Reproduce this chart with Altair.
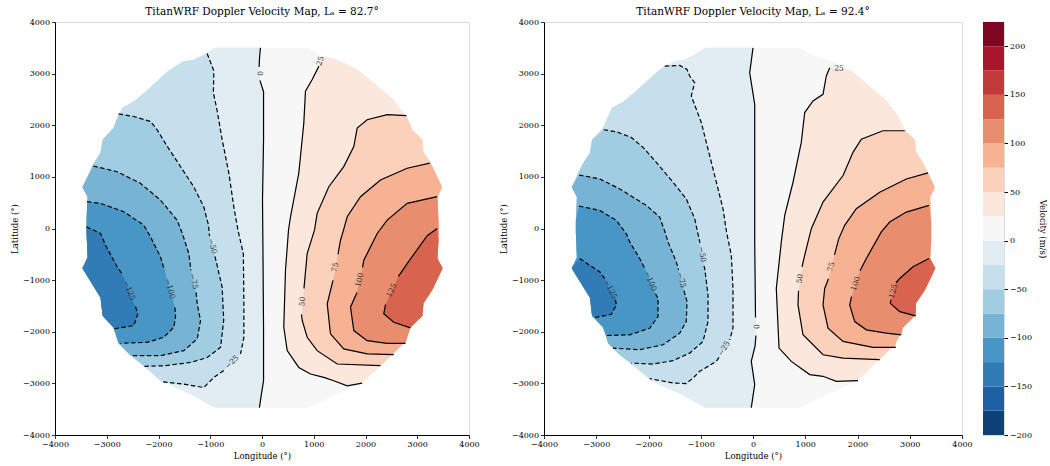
import math
import altair as alt
import pandas as pd

# ---------------- text / ticks ----------------
TITLE_LEFT = "TitanWRF Doppler Velocity Map, Lₛ = 82.7°"
TITLE_RIGHT = "TitanWRF Doppler Velocity Map, Lₛ = 92.4°"
X_TITLE = "Longitude (°)"
Y_TITLE = "Latitude (°)"
CBAR_TITLE = "Velocity (m/s)"
AXIS_TICKS = [-4000, -3000, -2000, -1000, 0, 1000, 2000, 3000, 4000]
CBAR_TICKS = [-200, -150, -100, -50, 0, 50, 100, 150, 200]
BAND_EDGES = [-200, -175, -150, -125, -100, -75, -50, -25, 0, 25, 50, 75, 100, 125, 150, 175, 200, 225]
RDBU_R = ["#053061", "#2166ac", "#4393c3", "#92c5de", "#d1e5f0", "#f7f7f7",
          "#fddbc7", "#f4a582", "#d6604d", "#b2182b", "#67001f"]

# ---------------- observed disk outline (lon, lat) ----------------
BOUNDARY = [(-920, 3500), (900, 3500), (960, 3460), (1170, 3340), (1460, 3270), (1850, 3080),
            (2230, 2760), (2540, 2500), (2770, 2200), (2910, 1910), (3100, 1720), (3120, 1480),
            (3260, 1270), (3480, 800), (3390, 600), (3410, 150), (3410, -230), (3390, -580),
            (3490, -770), (3290, -1190), (3120, -1450), (3100, -1690), (2870, -1920), (2730, -2230),
            (2540, -2420), (2290, -2660), (1940, -2990), (1710, -3090), (1460, -3200), (900, -3470),
            (-920, -3470), (-1320, -3240), (-1630, -3100), (-1960, -2950), (-2290, -2660),
            (-2540, -2460), (-2770, -2230), (-2870, -1920), (-3080, -1690), (-3120, -1340),
            (-3470, -770), (-3370, -560), (-3390, -90), (-3390, 160), (-3370, 610), (-3470, 800),
            (-3270, 1230), (-3120, 1470), (-3080, 1720), (-2870, 1950), (-2700, 2340), (-2480, 2460),
            (-2210, 2690), (-1830, 3040), (-1520, 3240), (-1320, 3270), (-1050, 3410)]

LBL = "label"  # where the inline contour label sits

# ---------------- left panel contours (Ls = 82.7) ----------------
L_0 = [(-30, 3500), (-50, 3270), (-55, 3130), LBL, (-40, 2870), (30, 2650), (30, 1720), (10, 550),
       (20, -610), (30, -1980), (30, -2950), (-10, -3200), (-50, -3470)]
L_M25 = [(-1060, 3390), (-930, 3050), (-940, 2630), (-870, 2300), (-770, 1720), (-640, 1070),
         (-545, 420), (-465, -30), (-360, -490), (-350, -1460), (-350, -2110), (-415, -2430), LBL,
         (-738, -2750), (-930, -2885), (-1125, -3080), (-1510, -3015), (-1930, -2970)]
L_M50 = [(-2770, 2220), (-2480, 2170), (-2155, 2075), (-2025, 1910), (-1830, 1590), (-1575, 1200),
         (-1320, 810), (-1125, 420), (-1034, 65), (-1014, -150), LBL, (-908, -540), (-770, -1135),
         (-740, -1780), (-800, -2300), (-1060, -2500), (-1380, -2595), (-1900, -2660), (-2285, -2670)]
L_M75 = [(-3260, 1210), (-2800, 1100), (-2350, 875), (-1960, 550), (-1640, 160), (-1540, -95),
         (-1415, -485), (-1372, -810), LBL, (-1275, -1238), (-1252, -1458), (-1188, -1782),
         (-1252, -2139), (-1511, -2366), (-1961, -2463), (-2541, -2463)]
L_M100 = [(-3380, 520), (-3120, 487), (-2670, 324), (-2284, 65), (-2154, -162), (-1961, -551),
          (-1884, -811), LBL, (-1681, -1530), (-1671, -1718), (-1704, -1913), (-1897, -2107),
          (-2218, -2205), (-2734, -2224)]
L_M125 = [(-3391, 32), (-3120, -96), (-3023, -324), (-2797, -746), (-2695, -892), LBL,
          (-2444, -1514), (-2400, -1652), (-2477, -1880), (-2863, -1944)]
L_P25 = [(1165, 3340), LBL, (1100, 3145), (970, 2886), (840, 2658), (808, 2043), (711, 1071),
         (551, 227), (512, -32), (454, -810), (421, -1913), (487, -2366), (711, -2691), (937, -2819),
         (1194, -2885), (1387, -2950), (1646, -3047), (1936, -2994)]
L_P50 = [(2790, 2185), (2419, 2205), (2032, 2108), (1839, 1946), (1774, 1588), (1580, 1199),
         (1291, 810), (1066, 293), (1014, -32), (873, -485), (811, -1160), LBL, (763, -1666),
         (777, -1782), (873, -2107), (1066, -2366), (1453, -2625), (2289, -2658)]
L_P75 = [(3242, 1265), (2805, 1168), (2289, 941), (1903, 616), (1646, 227), (1575, -32),
         (1517, -227), (1468, -499), LBL, (1372, -1005), (1260, -1458), (1323, -2041),
         (1580, -2333), (2032, -2430), (2546, -2444)]
L_P100 = [(3385, 616), (2805, 487), (2419, 162), (2226, -96), (1967, -616), (1942, -752), LBL,
          (1835, -1238), (1710, -1524), (1774, -1977), (2032, -2172), (2419, -2224), (2772, -2224)]
L_P125 = [(3385, 1), (3192, -139), (2805, -680), (2637, -927), LBL, (2386, -1472), (2353, -1652),
          (2546, -1816), (2869, -1925)]

# ---------------- right panel contours (Ls = 92.4) ----------------
R_0 = [(0, 3500), (-63, 3017), (33, 2406), (33, -260), (48, -1726), LBL, (57, -2073), (38, -2285),
       (-33, -2574), (33, -3023), (-33, -3470)]
R_M25 = [(-1690, 3146), (-1403, 3158), (-1263, 3081), (-1212, 2954), (-1116, 2825), (-1181, 2568),
         (-1085, 2310), (-990, 2053), (-894, 1668), (-733, 1026), (-574, 382), (-507, -67),
         (-415, -517), (-383, -1161), (-383, -1932), (-446, -2156), LBL, (-651, -2497), (-702, -2574),
         (-1020, -2767), (-1148, -2896), (-1277, -3004), (-1531, -2992), (-1977, -2907)]
R_M50 = [(-2858, 1913), (-2616, 1874), (-2329, 1764), (-2105, 1571), (-1851, 1282), (-1531, 897),
         (-1277, 575), (-1116, 189), (-1053, -106), (-1014, -280), LBL, (-938, -723), (-924, -775),
         (-861, -1288), (-861, -1803), (-957, -2188), (-1212, -2414), (-1531, -2560), (-1914, -2626),
         (-2329, -2607)]
R_M75 = [(-3330, 1037), (-2934, 960), (-2551, 767), (-2042, 447), (-1786, 222), (-1684, -67),
         (-1627, -260), (-1468, -646), (-1426, -800), LBL, (-1321, -1205), (-1263, -1417),
         (-1277, -1803), (-1403, -2028), (-1723, -2252), (-2169, -2348), (-2680, -2317)]
R_M100 = [(-3330, 434), (-2934, 351), (-2616, 158), (-2425, -100), (-2360, -260), (-2169, -582),
          (-2067, -781), LBL, (-1866, -1263), (-1818, -1353), (-1818, -1706), (-1977, -1932),
          (-2360, -2059), (-2808, -2073)]
R_M125 = [(-3317, -582), (-2934, -839), (-2833, -978), LBL, (-2632, -1379), (-2616, -1481),
          (-2712, -1662), (-3030, -1726)]
R_P25 = [(1818, 3081), LBL, (1468, 3114), (1403, 2954), (1340, 2599), (1148, 2472), (990, 2246),
         (924, 1668), (766, 896), (607, 254), (542, -260), (446, -1161), (498, -2317), (733, -2574),
         (1085, -2830), (1340, -2863), (1594, -2960), (2010, -2946)]
R_P50 = [(2904, 1893), (2488, 1893), (2073, 1731), (1914, 1475), (1723, 1026), (1340, 511),
         (1116, -4), (990, -517), (938, -742), LBL, (871, -1205), (861, -1481), (957, -2059),
         (1340, -2445), (1723, -2510), (2425, -2541)]
R_P75 = [(3350, 1076), (2934, 960), (2425, 704), (1977, 382), (1755, 62), (1640, -200), (1560, -511),
         LBL, (1445, -974), (1372, -1161), (1340, -1481), (1436, -1932), (1723, -2188),
         (2297, -2304), (2731, -2304)]
R_P100 = [(3369, 447), (2934, 318), (2616, 125), (2456, -67), (2169, -582), (2048, -819), LBL,
          (1885, -1321), (1851, -1481), (1947, -1803), (2169, -1963), (2551, -2028), (2838, -2059)]
R_P125 = [(3369, -582), (3062, -742), (2808, -968), (2737, -1051), LBL, (2641, -1379),
          (2628, -1450), (2808, -1610), (3114, -1693)]

LEFT_CONTOURS = {0: L_0, -25: L_M25, -50: L_M50, -75: L_M75, -100: L_M100, -125: L_M125,
                 25: L_P25, 50: L_P50, 75: L_P75, 100: L_P100, 125: L_P125}
RIGHT_CONTOURS = {0: R_0, -25: R_M25, -50: R_M50, -75: R_M75, -100: R_M100, -125: R_M125,
                  25: R_P25, 50: R_P50, 75: R_P75, 100: R_P100, 125: R_P125}

FONT = "DejaVu Serif"
PANEL_H = 413


def _rgb(h):
    return tuple(int(h[i:i + 2], 16) for i in (1, 3, 5))


def cmap(t):
    t = min(max(t, 0.0), 1.0) * (len(RDBU_R) - 1)
    i = min(int(t), len(RDBU_R) - 2)
    f = t - i
    a, b = _rgb(RDBU_R[i]), _rgb(RDBU_R[i + 1])
    return "#%02x%02x%02x" % tuple(round(x + (y - x) * f) for x, y in zip(a, b))


LO, HI = BAND_EDGES[0], BAND_EDGES[-1]
BAND_NAMES = [f"{a}..{b}" for a, b in zip(BAND_EDGES[:-1], BAND_EDGES[1:])]
BAND_COLORS = [cmap(((a + b) / 2 - LO) / (HI - LO)) for a, b in zip(BAND_EDGES[:-1], BAND_EDGES[1:])]


def band_index(lo_value):
    return BAND_EDGES.index(lo_value)


def seg_dist(p, a, b):
    dx, dy = b[0] - a[0], b[1] - a[1]
    l2 = dx * dx + dy * dy
    t = 0.0 if l2 == 0 else max(0.0, min(1.0, ((p[0] - a[0]) * dx + (p[1] - a[1]) * dy) / l2))
    return math.hypot(p[0] - (a[0] + t * dx), p[1] - (a[1] + t * dy))


def edge_of(p):
    n = len(BOUNDARY)
    return min(range(n), key=lambda k: seg_dist(p, BOUNDARY[k], BOUNDARY[(k + 1) % n]))


def region(points, level):
    """Polygon of v<level (left side) or v>level (right side) using the disk outline."""
    n = len(BOUNDARY)
    ks, ke = edge_of(points[0]), edge_of(points[-1])
    poly = list(points)
    if level <= 0:
        k = (ke + 1) % n
        while True:
            poly.append(BOUNDARY[k])
            if k == ks:
                break
            k = (k + 1) % n
    else:
        k = ke
        while True:
            poly.append(BOUNDARY[k])
            if k == (ks + 1) % n:
                break
            k = (k - 1) % n
    return poly


MINUS_EXPR = "replace(format(datum.value, 'd'), '-', '\u2212')"


def axis(title):
    return alt.Axis(values=AXIS_TICKS, title=title, labelExpr=MINUS_EXPR, grid=False, tickSize=3.5,
                    labelFlush=False, labelOverlap=False, domainColor="black", tickColor="black",
                    labelColor="black", titleColor="black", labelFont=FONT, titleFont=FONT,
                    labelFontSize=8, titleFontSize=8.5, titleFontWeight="normal", labelPadding=2,
                    titlePadding=3, domainWidth=1, tickWidth=0.8)


def build_panel(contours, title, width):
    sc = alt.Scale(domain=[-4000, 4000], nice=False, zero=False)
    X = alt.X("x:Q", scale=sc, axis=axis(X_TITLE))
    Y = alt.Y("y:Q", scale=sc, axis=axis(Y_TITLE))

    def fill_layer(poly, color):
        df = pd.DataFrame({"x": [p[0] for p in poly], "y": [p[1] for p in poly],
                           "i": list(range(len(poly)))})
        return alt.Chart(df).mark_line(filled=True, fill=color, strokeWidth=0).encode(
            x=X, y=Y, order=alt.Order("i:Q"))

    layers = [fill_layer(BOUNDARY, BAND_COLORS[band_index(0)])]
    for level in [0, -25, -50, -75, -100, -125]:
        pts = [p for p in contours[level] if p != LBL]
        layers.append(fill_layer(region(pts, level), BAND_COLORS[band_index(level - 25)]))
    for level in [25, 50, 75, 100, 125]:
        pts = [p for p in contours[level] if p != LBL]
        layers.append(fill_layer(region(pts, level), BAND_COLORS[band_index(level)]))

    rows, labels = [], []
    for level, pts in contours.items():
        seg, idx = 0, 0
        for k, p in enumerate(pts):
            if p == LBL:
                a, b = pts[k - 1], pts[k + 1]
                ang = math.degrees(math.atan2(-(b[1] - a[1]), b[0] - a[0]))
                if ang > 90:
                    ang -= 180
                if ang <= -90:
                    ang += 180
                if ang < 0:
                    ang += 360
                labels.append({"x": (a[0] + b[0]) / 2, "y": (a[1] + b[1]) / 2,
                               "t": str(level).replace("-", "\u2212"), "a": ang})
                seg += 1
                continue
            rows.append({"x": p[0], "y": p[1], "i": idx, "seg": f"{level}_{seg}", "neg": level < 0})
            idx += 1
    ldf = pd.DataFrame(rows)
    solid = alt.Chart(ldf[~ldf["neg"]]).mark_line(color="black", strokeWidth=1.2).encode(
        x=X, y=Y, detail="seg:N", order=alt.Order("i:Q"))
    dashed = alt.Chart(ldf[ldf["neg"]]).mark_line(color="black", strokeWidth=1.2,
                                                   strokeDash=[4.5, 2.5]).encode(
        x=X, y=Y, detail="seg:N", order=alt.Order("i:Q"))
    text = alt.Chart(pd.DataFrame(labels)).mark_text(font=FONT, fontSize=7.5, color="#333333").encode(
        x=X, y=Y, text="t:N", angle=alt.Angle("a:Q", scale=None))
    layers += [solid, dashed, text]
    return alt.layer(*layers).properties(
        width=width, height=PANEL_H,
        title=alt.TitleParams(title, font=FONT, fontSize=10.5, fontWeight="normal", color="black",
                              offset=1))


left = build_panel(LEFT_CONTOURS, TITLE_LEFT, 414)
right = build_panel(RIGHT_CONTOURS, TITLE_RIGHT, 418)

cb_df = pd.DataFrame({"lo": BAND_EDGES[:-1], "hi": BAND_EDGES[1:], "band": BAND_NAMES})
cbar = alt.Chart(cb_df).mark_rect().encode(
    y=alt.Y("lo:Q", scale=alt.Scale(domain=[LO, HI], nice=False, zero=False),
            axis=alt.Axis(orient="right", values=CBAR_TICKS, title=CBAR_TITLE, labelExpr=MINUS_EXPR,
                          grid=False, tickSize=3.5, domain=False, tickColor="black", labelColor="black",
                          titleColor="black", labelFont=FONT, titleFont=FONT, labelFontSize=8,
                          titleFontSize=8.5, titleFontWeight="normal", labelPadding=2,
                          titlePadding=6, labelFlush=False, labelOverlap=False)),
    y2="hi:Q",
    x=alt.value(0), x2=alt.value(21),
    fill=alt.Fill("band:N", scale=alt.Scale(domain=BAND_NAMES, range=BAND_COLORS), legend=None),
).properties(width=21, height=PANEL_H)

chart = alt.hconcat(left, alt.hconcat(right, cbar, spacing=9), spacing=18).properties(
    padding={"left": 9, "top": 6, "right": 0, "bottom": 0}
).configure_view(stroke="black", strokeWidth=1).configure(background="white")

chart.save("out.html", embed_options={"renderer": "svg", "actions": False})
